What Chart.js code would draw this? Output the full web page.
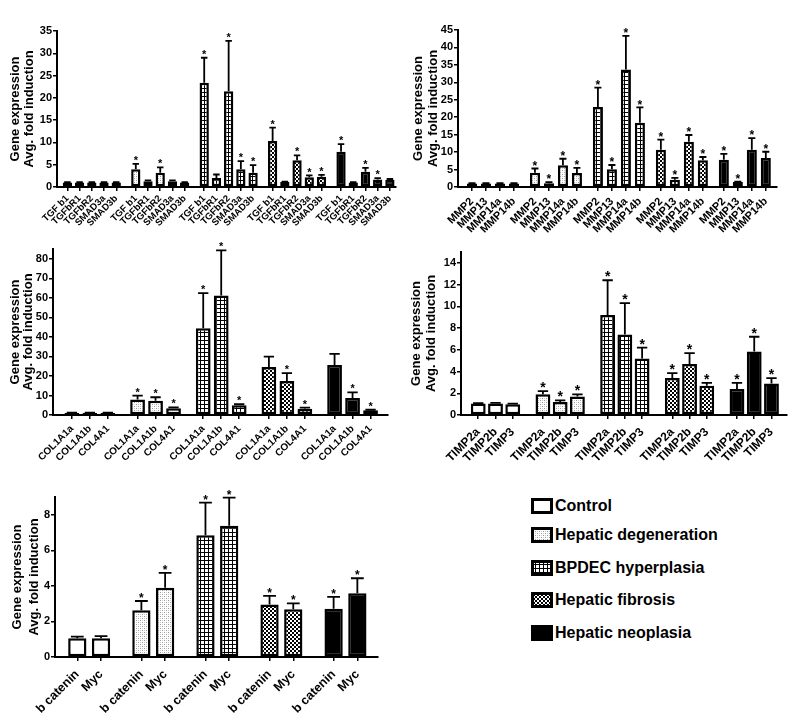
<!DOCTYPE html>
<html>
<head>
<meta charset="utf-8">
<script src="https://cdn.jsdelivr.net/npm/chart.js@4.4.1/dist/chart.umd.min.js"></script>
<style>
html,body{margin:0;padding:0;background:#fff;}
#wrap{position:relative;width:800px;height:728px;overflow:hidden;background:#fff;font-family:'Liberation Sans',Arial,Helvetica,sans-serif;}
canvas.pane{position:absolute;}
.lgItem{position:absolute;left:531px;height:22px;white-space:nowrap;}
.lgItem canvas{position:absolute;left:0;top:3px;}
.lgItem span{position:absolute;left:24px;top:0;font-weight:bold;font-size:16px;line-height:22px;color:#000;}
</style>
</head>
<body>
<div id="wrap">
  <canvas class="pane" id="c1" width="400" height="240" style="left:0;top:0"></canvas>
  <canvas class="pane" id="c2" width="400" height="240" style="left:400px;top:0"></canvas>
  <canvas class="pane" id="c3" width="400" height="240" style="left:0;top:240px"></canvas>
  <canvas class="pane" id="c4" width="400" height="240" style="left:400px;top:240px"></canvas>
  <canvas class="pane" id="c5" width="420" height="248" style="left:0;top:480px"></canvas>
  <div id="legend"></div>
</div>
<script>
// ---------------- DATA ----------------
const groupNames = ['Control', 'Hepatic degeneration', 'BPDEC hyperplasia', 'Hepatic fibrosis', 'Hepatic neoplasia'];
const yTitle = ['Gene expression', 'Avg. fold induction'];

// Panel A: TGF-beta pathway
const tgfGenes = ['TGF b1', 'TGFbR1', 'TGFbR2', 'SMAD3a', 'SMAD3b'];
const tgfMean = [
  [1.0, 1.0, 1.0, 1.0, 1.0],
  [4.0, 1.3, 3.2, 1.3, 1.0],
  [23.4, 2.0, 21.5, 4.0, 3.2],
  [10.3, 1.1, 6.0, 2.2, 2.3],
  [7.9, 1.0, 3.4, 1.7, 1.6]
];
const tgfUpper = [
  [1.1, 1.1, 1.1, 1.1, 1.1],
  [5.2, 1.5, 4.4, 1.5, 1.1],
  [29.0, 2.8, 32.8, 5.8, 4.9],
  [13.3, 1.2, 7.1, 2.6, 2.7],
  [9.6, 1.1, 4.3, 2.0, 1.8]
];
const tgfSig = [
  [0, 0, 0, 0, 0],
  [1, 0, 1, 0, 0],
  [1, 0, 1, 1, 1],
  [1, 0, 1, 1, 1],
  [1, 0, 1, 1, 0]
];
const tgfTicks = [0, 5, 10, 15, 20, 25, 30, 35];

// Panel B: MMPs
const mmpGenes = ['MMP2', 'MMP13', 'MMP14a', 'MMP14b'];
const mmpMean = [
  [1.0, 1.0, 1.0, 1.0],
  [4.1, 1.1, 6.2, 4.0],
  [22.9, 5.1, 33.7, 18.4],
  [10.7, 2.1, 13.0, 7.7],
  [7.8, 1.4, 10.7, 8.3]
];
const mmpUpper = [
  [1.1, 1.1, 1.1, 1.1],
  [5.3, 1.4, 8.1, 5.5],
  [28.5, 6.3, 43.3, 22.8],
  [13.6, 2.6, 14.9, 8.6],
  [9.5, 1.5, 14.0, 10.1]
];
const mmpSig = [
  [0, 0, 0, 0],
  [1, 1, 1, 1],
  [1, 1, 1, 1],
  [1, 1, 1, 1],
  [1, 1, 1, 1]
];
const mmpTicks = [0, 5, 10, 15, 20, 25, 30, 35, 40, 45];

// Panel C: collagens
const colGenes = ['COL1A1a', 'COL1A1b', 'COL4A1'];
const colMean = [
  [1.0, 1.0, 1.0],
  [7.9, 7.3, 3.4],
  [44.4, 61.2, 5.0],
  [24.6, 17.4, 3.2],
  [25.6, 8.7, 2.4]
];
const colUpper = [
  [1.2, 1.2, 1.2],
  [9.9, 9.1, 3.9],
  [62.4, 84.3, 5.5],
  [29.9, 21.4, 3.8],
  [31.3, 11.6, 2.7]
];
const colSig = [
  [0, 0, 0],
  [1, 1, 1],
  [1, 1, 1],
  [0, 1, 1],
  [0, 1, 1]
];
const colTicks = [0, 10, 20, 30, 40, 50, 60, 70, 80];

// Panel D: TIMPs
const timpGenes = ['TIMP2a', 'TIMP2b', 'TIMP3'];
const timpMean = [
  [1.05, 1.05, 1.0],
  [1.9, 1.2, 1.7],
  [9.2, 7.4, 5.2],
  [3.4, 4.7, 2.7],
  [2.4, 5.85, 2.9]
];
const timpUpper = [
  [1.1, 1.12, 1.05],
  [2.2, 1.35, 1.9],
  [12.4, 10.3, 6.2],
  [3.85, 5.7, 2.95],
  [2.95, 7.2, 3.4]
];
const timpSig = [
  [0, 0, 0],
  [1, 1, 1],
  [1, 1, 1],
  [1, 1, 1],
  [1, 1, 1]
];
const timpTicks = [0, 2, 4, 6, 8, 10, 12, 14];

// Panel E: Wnt targets
const wntGenes = ['b catenin', 'Myc'];
const wntMean = [
  [1.05, 1.05],
  [2.63, 3.89],
  [6.85, 7.38],
  [2.95, 2.69],
  [2.72, 3.59]
];
const wntUpper = [
  [1.15, 1.17],
  [3.15, 4.73],
  [8.68, 8.96],
  [3.44, 3.02],
  [3.38, 4.43]
];
const wntSig = [
  [0, 0],
  [1, 1],
  [1, 1],
  [1, 1],
  [1, 1]
];
const wntTicks = [0, 2, 4, 6, 8];

// ---------------- STYLE ----------------
const FONT = "'Liberation Sans', Arial, Helvetica, sans-serif";
Chart.defaults.font.family = FONT;
Chart.defaults.color = '#000';
Chart.defaults.animation = false;

function makeFill(ctx, kind) {
  if (kind === 4) return '#000';
  if (kind === 0) return '#fff';
  const t = document.createElement('canvas');
  t.width = 4; t.height = 4;
  const g = t.getContext('2d');
  g.fillStyle = '#fff'; g.fillRect(0, 0, 4, 4);
  if (kind === 1) {
    g.fillStyle = '#9a9a9a';
    g.fillRect(0, 0, 1, 1); g.fillRect(2, 2, 1, 1);
    g.fillStyle = '#cfcfcf';
    g.fillRect(2, 0, 1, 1); g.fillRect(0, 2, 1, 1);
  } else if (kind === 2) {
    g.fillStyle = '#000';
    g.fillRect(0, 0, 4, 1); g.fillRect(0, 0, 1, 4);
  } else if (kind === 3) {
    g.fillStyle = '#000';
    g.fillRect(0, 0, 2, 2); g.fillRect(2, 2, 2, 2);
  }
  return ctx.createPattern(t, 'repeat');
}

const errPlugin = {
  id: 'errbars',
  afterDatasetsDraw(chart, args, opts) {
    const ctx = chart.ctx;
    const ys = chart.scales.y;
    chart.data.datasets.forEach((ds, di) => {
      const meta = chart.getDatasetMeta(di);
      meta.data.forEach((bar, i) => {
        const top = ys.getPixelForValue(ds.data[i].y);
        const ey = ys.getPixelForValue(opts.upper[di][i]);
        const hw = bar.width * opts.capFrac / 2;
        ctx.save();
        ctx.strokeStyle = '#000';
        ctx.lineWidth = opts.lineWidth;
        ctx.beginPath();
        ctx.moveTo(bar.x, top);
        ctx.lineTo(bar.x, ey);
        ctx.moveTo(bar.x - hw, ey);
        ctx.lineTo(bar.x + hw, ey);
        ctx.stroke();
        if (opts.sig[di][i]) {
          ctx.fillStyle = '#000';
          ctx.font = 'bold ' + opts.starSize + 'px ' + FONT;
          ctx.textAlign = 'center';
          ctx.textBaseline = 'alphabetic';
          const m = ctx.measureText('*');
          const desc = m.actualBoundingBoxDescent || 0;
          ctx.fillText('*', bar.x, ey - opts.lineWidth / 2 - opts.starGap - desc);
        }
        ctx.restore();
      });
    });
  }
};

function panel(id, genes, mean, upper, sig, yTicks, L) {
  const canvas = document.getElementById(id);
  const ctx = canvas.getContext('2d');
  const n = genes.length;
  const stride = n + L.gap;
  const positions = [];
  const labels = [];
  groupNames.forEach((gn, gi) => genes.forEach((g, i) => { positions.push(gi * stride + i); labels.push(g); }));
  const lastPos = positions[positions.length - 1];
  const datasets = groupNames.map((gn, gi) => ({
    label: gn,
    data: genes.map((g, i) => ({ x: gi * stride + i, y: mean[gi][i] })),
    backgroundColor: makeFill(ctx, gi),
    borderColor: '#000',
    borderWidth: L.bw,
    borderSkipped: false,
    grouped: false,
    barPercentage: L.bp,
    categoryPercentage: 1
  }));
  return new Chart(ctx, {
    type: 'bar',
    data: { datasets },
    plugins: [errPlugin],
    options: {
      responsive: false,
      animation: false,
      layout: { padding: { top: L.top, right: L.right, left: 0, bottom: 0 } },
      plugins: {
        legend: { display: false },
        tooltip: { enabled: false },
        errbars: { upper, sig, starSize: L.star, starGap: 2, lineWidth: L.elw, capFrac: L.cap }
      },
      scales: {
        x: {
          type: 'linear',
          offset: false,
          min: L.xmin,
          max: lastPos + L.xpad,
          afterBuildTicks: (s) => { s.ticks = positions.map(v => ({ value: v })); },
          afterFit: (s) => { s.height = L.xh; },
          ticks: {
            autoSkip: false,
            minRotation: 45, maxRotation: 45,
            padding: L.xpadLbl,
            font: { size: L.xfont, weight: 'bold' },
            color: '#000',
            callback: (v, i) => labels[i]
          },
          grid: { display: true, drawOnChartArea: false, drawTicks: true, tickLength: 4, color: '#000', lineWidth: 1.5, offset: false },
          border: { display: true, color: '#000', width: 2 }
        },
        y: {
          type: 'linear',
          min: 0,
          max: L.ymax,
          afterBuildTicks: (s) => { s.ticks = yTicks.map(v => ({ value: v })); },
          afterFit: (s) => { s.width = L.yw; },
          ticks: { padding: 1, font: { size: L.yfont, weight: 'bold' }, color: '#000' },
          grid: { display: true, drawOnChartArea: false, drawTicks: true, tickLength: 4, color: '#000', lineWidth: 1.5 },
          border: { display: true, color: '#000', width: 2 },
          title: {
            display: true,
            text: yTitle,
            color: '#000',
            font: { size: 13, weight: 'bold', lineHeight: L.tlh },
            padding: { top: L.tpad, bottom: 0 }
          }
        }
      }
    }
  });
}

panel('c1', tgfGenes, tgfMean, tgfUpper, tgfSig, tgfTicks,
  { gap: 0.6, xmin: -0.85, xpad: 0.5, top: 31, right: 2, yw: 57, xh: 53, ymax: 35, bp: 0.76, bw: 2.5,
    xfont: 9.5, yfont: 11, xpadLbl: 2, star: 11, elw: 1.8, cap: 0.7, tlh: 1.1, tpad: 8 });
panel('c2', mmpGenes, mmpMean, mmpUpper, mmpSig, mmpTicks,
  { gap: 0.5, xmin: -1.0, xpad: 0.8, top: 30, right: 23, yw: 58, xh: 53, ymax: 45, bp: 0.72, bw: 2.5,
    xfont: 11, yfont: 11, xpadLbl: 4, star: 12, elw: 1.8, cap: 0.7, tlh: 1.15, tpad: 11 });
panel('c3', colGenes, colMean, colUpper, colSig, colTicks,
  { gap: 0.65, xmin: -1.05, xpad: 0.97, top: 9, right: 12, yw: 53, xh: 65, ymax: 85, bp: 0.82, bw: 2.5,
    xfont: 10, yfont: 11, xpadLbl: 4, star: 11, elw: 1.8, cap: 0.7, tlh: 1.0, tpad: 9 });
panel('c4', timpGenes, timpMean, timpUpper, timpSig, timpTicks,
  { gap: 0.75, xmin: -1.0, xpad: 0.9, top: 12, right: 13, yw: 61, xh: 65, ymax: 15, bp: 0.86, bw: 2.5,
    xfont: 12, yfont: 11, xpadLbl: 6, star: 14, elw: 1.8, cap: 0.7, tlh: 1.15, tpad: 9 });
panel('c5', wntGenes, wntMean, wntUpper, wntSig, wntTicks,
  { gap: 0.7, xmin: -0.94, xpad: 0.87, top: 17, right: 42, yw: 55, xh: 71, ymax: 9, bp: 0.77, bw: 2.5,
    xfont: 12.5, yfont: 11, xpadLbl: 6, star: 12, elw: 1.8, cap: 0.7, tlh: 1.3, tpad: 9 });

// ---------------- LEGEND ----------------
const legendRowsY = [506, 535, 568, 600, 633];
const lg = document.getElementById('legend');
groupNames.forEach((gn, gi) => {
  const item = document.createElement('div');
  item.className = 'lgItem';
  item.style.top = (legendRowsY[gi] - 11) + 'px';
  const sw = document.createElement('canvas');
  sw.width = 22; sw.height = 16;
  const c = sw.getContext('2d');
  c.fillStyle = makeFill(c, gi);
  c.fillRect(0, 0, 22, 16);
  c.strokeStyle = '#000';
  c.lineWidth = 3;
  c.strokeRect(1.5, 1.5, 19, 13);
  const sp = document.createElement('span');
  sp.textContent = gn;
  item.appendChild(sw);
  item.appendChild(sp);
  lg.appendChild(item);
});
</script>
</body>
</html>
